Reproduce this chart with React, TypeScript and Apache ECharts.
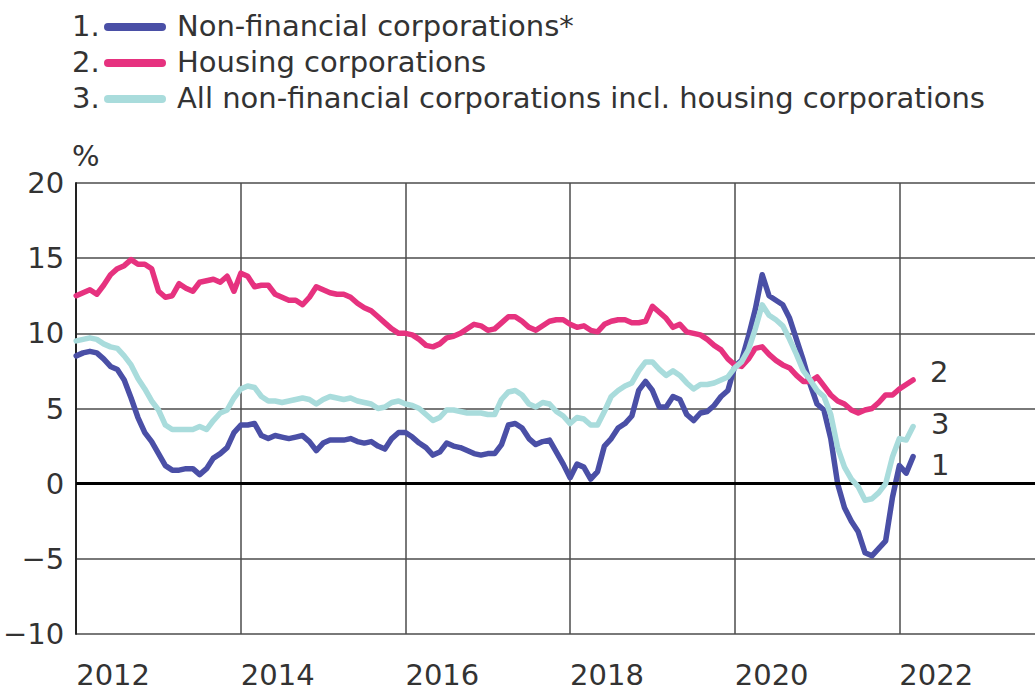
import React, { useEffect, useRef } from "react";
import * as echarts from "echarts";

const START_YEAR = 2012;
const yTicks = { min: -10, max: 20, interval: 5 };
const xTicks = { min: 2012, max: 2024, interval: 2 };

const legendNames = [
  "Non-financial corporations*",
  "Housing corporations",
  "All non-financial corporations incl. housing corporations",
];
const endLabels = ["1", "2", "3"];
const colors = ["#4a4fa6", "#e6327f", "#a9dcdc"];

// Monthly values, Jan 2012 – Mar 2022 (%)
const nonFinancial = [
  8.5, 8.7, 8.8, 8.7, 8.3, 7.8, 7.6, 6.9, 5.7, 4.4,
  3.4, 2.8, 2.0, 1.2, 0.9, 0.9, 1.0, 1.0, 0.6, 1.0,
  1.7, 2.0, 2.4, 3.4, 3.9, 3.9, 4.0, 3.2, 3.0, 3.2,
  3.1, 3.0, 3.1, 3.2, 2.8, 2.2, 2.7, 2.9, 2.9, 2.9,
  3.0, 2.8, 2.7, 2.8, 2.5, 2.3, 3.0, 3.4, 3.4, 3.1,
  2.7, 2.4, 1.9, 2.1, 2.7, 2.5, 2.4, 2.2, 2.0, 1.9,
  2.0, 2.0, 2.6, 3.9, 4.0, 3.7, 3.0, 2.6, 2.8, 2.9,
  2.1, 1.3, 0.4, 1.3, 1.1, 0.3, 0.8, 2.5, 3.0, 3.7,
  4.0, 4.5, 6.2, 6.8, 6.2, 5.1, 5.1, 5.8, 5.6, 4.6,
  4.2, 4.7, 4.8, 5.2, 5.8, 6.2, 7.8, 8.2, 9.8, 11.6,
  13.9, 12.5, 12.2, 11.9, 11.0, 9.6, 8.2, 6.6, 5.3, 4.9,
  3.0, 0.0, -1.6, -2.5, -3.2, -4.6, -4.8, -4.3, -3.8, -0.9,
  1.2, 0.7, 1.8,
];

const housing = [
  12.5, 12.7, 12.9, 12.6, 13.2, 13.9, 14.3, 14.5, 14.9, 14.6,
  14.6, 14.3, 12.8, 12.4, 12.5, 13.3, 13.0, 12.8, 13.4, 13.5,
  13.6, 13.4, 13.8, 12.8, 14.0, 13.8, 13.1, 13.2, 13.2, 12.6,
  12.4, 12.2, 12.2, 11.9, 12.4, 13.1, 12.9, 12.7, 12.6, 12.6,
  12.4, 12.0, 11.7, 11.5, 11.1, 10.7, 10.3, 10.0, 10.0, 9.9,
  9.6, 9.2, 9.1, 9.3, 9.7, 9.8, 10.0, 10.3, 10.6, 10.5,
  10.2, 10.3, 10.7, 11.1, 11.1, 10.8, 10.4, 10.2, 10.5, 10.8,
  10.9, 10.9, 10.6, 10.4, 10.5, 10.2, 10.1, 10.6, 10.8, 10.9,
  10.9, 10.7, 10.7, 10.8, 11.8, 11.4, 11.0, 10.4, 10.6, 10.1,
  10.0, 9.9, 9.6, 9.2, 8.9, 8.3, 7.9, 7.8, 8.3, 9.0,
  9.1, 8.6, 8.2, 7.9, 7.7, 7.2, 6.8, 6.8, 7.1, 6.5,
  5.9, 5.5, 5.3, 4.9, 4.7, 4.9, 5.0, 5.4, 5.9, 5.9,
  6.3, 6.6, 6.9,
];

const allNonFinancial = [
  9.5, 9.6, 9.7, 9.6, 9.3, 9.1, 9.0, 8.5, 7.9, 7.0,
  6.3, 5.5, 4.9, 3.9, 3.6, 3.6, 3.6, 3.6, 3.8, 3.6,
  4.2, 4.7, 4.9, 5.7, 6.3, 6.5, 6.4, 5.8, 5.5, 5.5,
  5.4, 5.5, 5.6, 5.7, 5.6, 5.3, 5.6, 5.8, 5.7, 5.6,
  5.7, 5.5, 5.4, 5.3, 5.0, 5.1, 5.4, 5.5, 5.3, 5.2,
  5.0, 4.6, 4.2, 4.4, 4.9, 4.9, 4.8, 4.7, 4.7, 4.7,
  4.6, 4.6, 5.6, 6.1, 6.2, 5.9, 5.3, 5.1, 5.4, 5.3,
  4.8, 4.5, 4.0, 4.4, 4.3, 3.9, 3.9, 4.8, 5.8, 6.2,
  6.5, 6.7, 7.5, 8.1, 8.1, 7.6, 7.2, 7.5, 7.2, 6.7,
  6.3, 6.6, 6.6, 6.7, 6.9, 7.1, 7.7, 8.1, 8.9, 10.3,
  11.9, 11.2, 10.9, 10.5, 9.6, 8.6, 7.5, 6.9, 6.2, 5.8,
  4.6, 2.4, 1.1, 0.3, -0.2, -1.1, -1.0, -0.6, 0.0, 1.8,
  3.0, 2.9, 3.8,
];

const seriesValues = [nonFinancial, housing, allNonFinancial];
const endLabelOffsets = [
  [13, 8],
  [12, -8],
  [13, -3],
];

const FONT = "DejaVu Sans";
const TEXT = "#333333";
const GRID = "#4d4d4d";

function toPoints(values: number[]) {
  return values.map((v, i) => [START_YEAR + i / 12, v]);
}

export default function App() {
  const ref = useRef<HTMLDivElement>(null);

  useEffect(() => {
    if (!ref.current) return;
    const chart = echarts.init(ref.current, undefined, { renderer: "svg" });

    const legendGraphics: any[] = [];
    legendNames.forEach((name, k) => {
      const cy = 26 + k * 36;
      legendGraphics.push({
        type: "text",
        left: 72,
        top: cy - 15,
        style: { text: `${k + 1}.`, font: `29px '${FONT}'`, fill: TEXT },
      });
      legendGraphics.push({
        type: "line",
        shape: { x1: 108, y1: cy + 1, x2: 162, y2: cy + 1 },
        style: { stroke: colors[k], lineWidth: 8, lineCap: "round" },
      });
      legendGraphics.push({
        type: "text",
        left: 177,
        top: cy - 15,
        style: { text: name, font: `29px '${FONT}'`, fill: TEXT },
      });
    });
    legendGraphics.push({
      type: "text",
      left: 72,
      top: 141,
      style: { text: "%", font: `29px '${FONT}'`, fill: TEXT },
    });

    const lineSeries: any[] = seriesValues.map((vals, k) => ({
      type: "line",
      name: legendNames[k],
      data: toPoints(vals),
      showSymbol: false,
      symbol: "none",
      z: 3 + k,
      lineStyle: { color: colors[k], width: 5.5, join: "round", cap: "round" },
      itemStyle: { color: colors[k] },
      endLabel: {
        show: true,
        formatter: endLabels[k],
        fontFamily: FONT,
        fontSize: 29,
        color: TEXT,
        distance: 5,
        offset: endLabelOffsets[k],
      },
    }));

    const option: any = {
      animation: false,
      textStyle: { fontFamily: FONT },
      grid: { left: 74, top: 183, width: 990, height: 451, containLabel: false },
      xAxis: {
        type: "value",
        min: xTicks.min,
        max: xTicks.max,
        interval: xTicks.interval,
        axisLine: { show: true, lineStyle: { color: "#222", width: 2 } },
        axisTick: { show: false },
        axisLabel: {
          fontFamily: FONT,
          fontSize: 29,
          color: TEXT,
          align: "left",
          margin: 26,
          showMaxLabel: false,
          formatter: (v: number) => String(v),
        },
        splitLine: { show: true, lineStyle: { color: GRID, width: 1.5 } },
      },
      yAxis: {
        type: "value",
        min: yTicks.min,
        max: yTicks.max,
        interval: yTicks.interval,
        axisLine: { show: true, lineStyle: { color: "#222", width: 2 } },
        axisTick: { show: false },
        axisLabel: {
          fontFamily: FONT,
          fontSize: 29,
          color: TEXT,
          margin: 12,
          formatter: (v: number) => (v < 0 ? "\u2212" + Math.abs(v) : String(v)),
        },
        splitLine: { show: true, lineStyle: { color: GRID, width: 1.5 } },
      },
      graphic: legendGraphics,
      series: [
        {
          type: "line",
          data: [],
          z: 2,
          silent: true,
          markLine: {
            silent: true,
            symbol: "none",
            label: { show: false },
            lineStyle: { color: "#000", width: 3, type: "solid" },
            data: [{ yAxis: 0 }],
          },
        },
        ...lineSeries,
      ],
    };

    chart.setOption(option);
    return () => chart.dispose();
  }, []);

  return (
    <div
      style={{
        position: "absolute",
        left: 0,
        top: 0,
        width: 1035,
        height: 691,
        overflow: "hidden",
        background: "#fff",
      }}
    >
      <div ref={ref} style={{ width: 1080, height: 691 }} />
    </div>
  );
}
